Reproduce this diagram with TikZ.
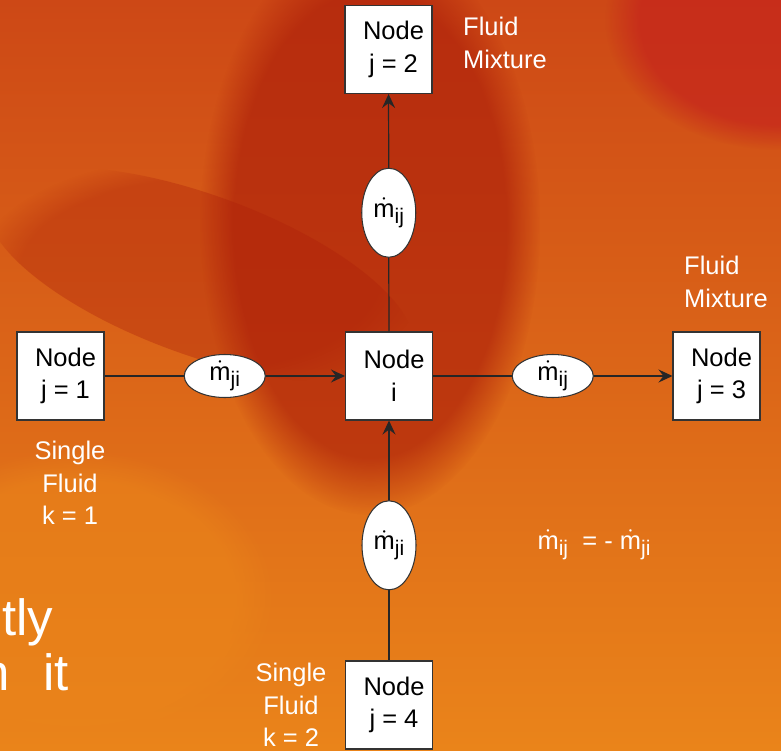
\documentclass[tikz,border=0pt]{standalone}
\usepackage{amsmath}
\usepackage{fontspec}
\setmainfont{Liberation Sans}
\usetikzlibrary{positioning,arrows.meta,shapes.geometric,fadings}

\definecolor{bgtop}{RGB}{205,72,22}
\definecolor{bgbot}{RGB}{234,132,26}
\definecolor{bgdark}{RGB}{172,30,10}
\definecolor{bgdeep}{RGB}{195,28,30}

\newcommand{\mflow}[1]{$\dot{\text{m}}$\raisebox{-0.45ex}{\fontsize{12}{12}\selectfont #1}}

\begin{document}
\begin{tikzpicture}[
  font=\fontsize{14.5}{18.5}\selectfont,
  every node/.style={align=center},
  nodebox/.style ={rectangle, draw=black!80, fill=white, line width=0.6pt,
                   minimum width=17.4mm, minimum height=17.6mm, inner sep=0pt},
  flow/.style    ={ellipse, draw=black!80, fill=white, line width=0.6pt, inner sep=0pt},
  vflow/.style   ={flow, minimum width=10.8mm, minimum height=17.8mm},
  hflow/.style   ={flow, minimum width=16.2mm, minimum height=8.6mm},
  fluidtxt/.style={text=white},
  slidetxt/.style={text=white, font=\fontsize{29}{34}\selectfont},
  arrow/.style   ={-{Stealth[length=2.8mm,width=2.6mm,inset=1mm]},
                   line width=0.7pt, draw=black!85},
]

% Background (slide photo, roughly)
\useasboundingbox (0,0) rectangle (15.62,15);
\begin{scope}
  \clip (0,0) rectangle (15.62,15);
  \shade[top color=bgtop, bottom color=bgbot] (0,0) rectangle (15.62,15);
  \fill[bgdark, fill opacity=.65, path fading=circle with fuzzy edge 20 percent]
    (7.4,10.5) ellipse (3.4 and 5.8);
  \fill[bgdark, fill opacity=.35, path fading=circle with fuzzy edge 20 percent, rotate around={-20:(4,9.5)}]
    (4,9.5) ellipse (4.5 and 1.6);
  \fill[bgdeep, fill opacity=.6, path fading=circle with fuzzy edge 20 percent]
    (15.6,14.6) ellipse (3.5 and 2.6);
  \fill[bgbot, fill opacity=.6, path fading=circle with fuzzy edge 20 percent]
    (1.5,3) ellipse (4 and 3);
\end{scope}

% Nodes
\node[nodebox] (nodej2) at (7.77,14.01) {\hspace*{2mm}Node\\\hspace*{2mm}j = 2};
\node[nodebox] (nodej1) at (1.21,7.48)  {\hspace*{2mm}Node\\\hspace*{2mm}j = 1};
\node[nodebox] (nodei)  at (7.78,7.48)  {\hspace*{2mm}Node\\\hspace*{2mm}i};
\node[nodebox] (nodej3) at (14.33,7.48) {\hspace*{2mm}Node\\\hspace*{2mm}j = 3};
\node[nodebox] (nodej4) at (7.78,0.90)  {\hspace*{2mm}Node\\\hspace*{2mm}j = 4};

% Flows
\draw[arrow] (nodej1) -- node[hflow, midway] (flowji) {\mflow{ji}} (nodei);
\draw[arrow] (nodei)  -- node[hflow, midway] (flowij) {\mflow{ij}} (nodej3);
\draw[arrow] (nodei)  -- node[vflow, midway] (flowup) {\mflow{ij}} (nodej2);
\draw[arrow] (nodej4) -- node[vflow, pos=.48] (flowdn) {\mflow{ji}} (nodei);

% Fluid notes
\node[fluidtxt, align=left] (mix2) at (10.10,14.14) {Fluid\\Mixture};
\node[fluidtxt, align=left] (mix3) at (14.52,9.36)  {Fluid\\Mixture};
\node[fluidtxt] (single1) at (1.40,5.34) {Single\\Fluid\\k = 1};
\node[fluidtxt] (single2) at (5.82,0.90) {Single\\Fluid\\k = 2};
\node[fluidtxt] (balance) at (11.88,4.10) {\mflow{ij}\ \ = - \mflow{ji}};

% Slide text cut off at the left
\node[slidetxt, anchor=base west, inner sep=0pt] (txt1) at (0.04,2.30) {tly};
\node[slidetxt, anchor=base east, inner sep=0pt] (txt2) at (1.38,1.20) {n\hspace{0.65em}it};

\end{tikzpicture}
\end{document}
